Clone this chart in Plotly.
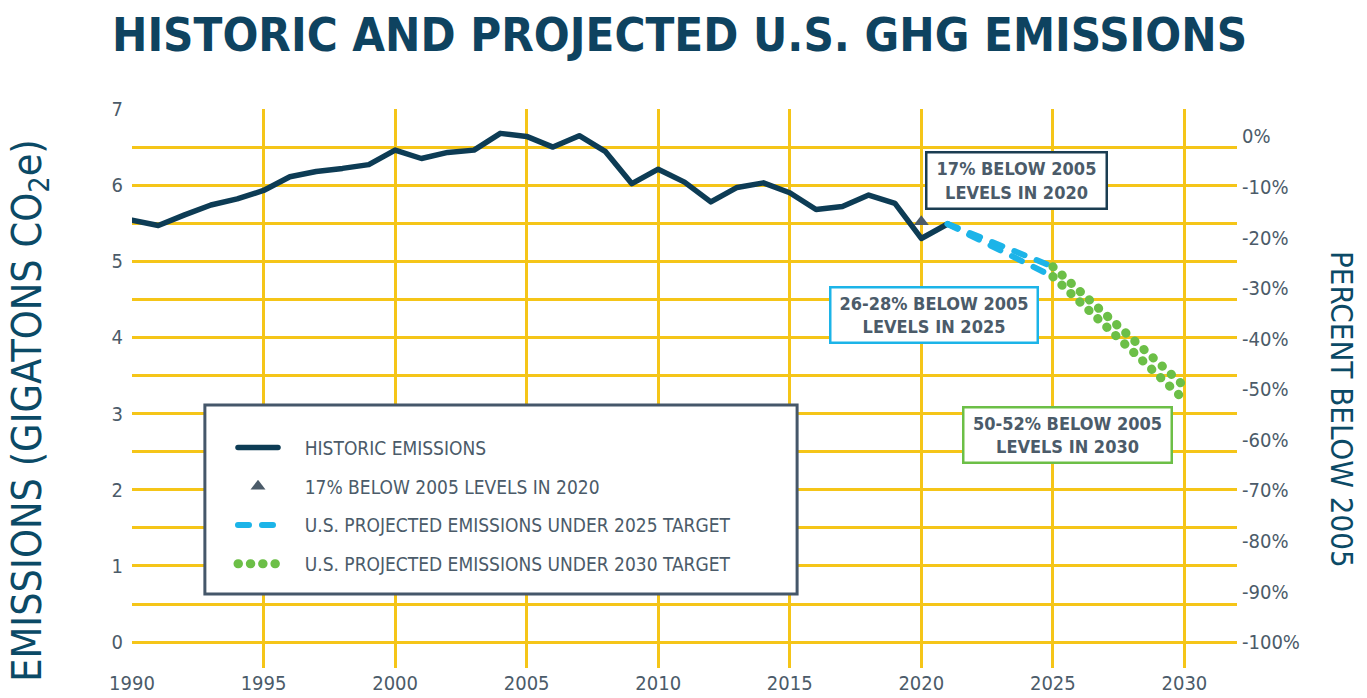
import plotly.graph_objects as go

# ---------------- data ----------------
hist_years = list(range(1990, 2022))
hist_values = [5.54, 5.47, 5.61, 5.74, 5.82, 5.93, 6.11, 6.18, 6.22, 6.27,
               6.46, 6.35, 6.43, 6.46, 6.68, 6.64, 6.50, 6.65, 6.44, 6.02,
               6.21, 6.04, 5.78, 5.97, 6.03, 5.90, 5.68, 5.72, 5.87, 5.76,
               5.30, 5.49]

target2020_year = [2020]
target2020_value = [5.52]

proj2025_years = [2021, 2025]
proj2025_high = [5.49, 4.93]
proj2025_low = [5.49, 4.80]

proj2030_years = [2025, 2030]
proj2030_high = [4.93, 3.36]
proj2030_low = [4.80, 3.18]

base_2005 = hist_values[hist_years.index(2005)]

x_tickvals = [1990, 1995, 2000, 2005, 2010, 2015, 2020, 2025, 2030]
x_ticktext = ["1990", "1995", "2000", "2005", "2010", "2015", "2020", "2025", "2030"]
y_tickvals = [0, 1, 2, 3, 4, 5, 6, 7]
y_ticktext = ["0", "1", "2", "3", "4", "5", "6", "7"]
y_half_grid = [0.5, 1.5, 2.5, 3.5, 4.5, 5.5, 6.5]
pct_tickvals = [0, -10, -20, -30, -40, -50, -60, -70, -80, -90, -100]
pct_ticktext = ["0%", "-10%", "-20%", "-30%", "-40%", "-50%", "-60%", "-70%",
                "-80%", "-90%", "-100%"]

legend_names = ["HISTORIC EMISSIONS", "17% BELOW 2005 LEVELS IN 2020",
                "U.S. PROJECTED EMISSIONS UNDER 2025 TARGET",
                "U.S. PROJECTED EMISSIONS UNDER 2030 TARGET"]

# ---------------- style ----------------
NAVY = "#0d3c55"
SLATE = "#4b5b69"
CYAN = "#1cb4e8"
GREEN = "#6cbf47"
GRID = "#f5c518"
TITLE = "#0e4360"
COND = "DejaVu Sans Condensed"
PAD = "\u00a0\u00a0\u00a0\u00a0"

y_range = [-0.34, 7.0]
x_range = [1990, 2032]
y2_range = [(y_range[0] / base_2005 - 1) * 100, (y_range[1] / base_2005 - 1) * 100]

fig = go.Figure()

fig.add_trace(go.Scatter(
    x=hist_years, y=hist_values, mode="lines", name=PAD + legend_names[0],
    legendgroup="a", line=dict(color=NAVY, width=5.5), hoverinfo="skip"))

fig.add_trace(go.Scatter(
    x=target2020_year, y=target2020_value, mode="markers", name=PAD + legend_names[1],
    legendgroup="b", marker=dict(symbol="triangle-up", size=13, color=SLATE),
    hoverinfo="skip"))

fig.add_trace(go.Scatter(
    x=proj2025_years, y=proj2025_high, mode="lines", name=PAD + legend_names[2],
    legendgroup="c", line=dict(color=CYAN, width=6, dash="11px,13px"),
    hoverinfo="skip"))
fig.add_trace(go.Scatter(
    x=proj2025_years, y=proj2025_low, mode="lines", name=PAD + legend_names[2],
    legendgroup="c", showlegend=False,
    line=dict(color=CYAN, width=6, dash="11px,13px"), hoverinfo="skip"))

fig.add_trace(go.Scatter(
    x=proj2030_years, y=proj2030_high, mode="lines", name=PAD + legend_names[3],
    legendgroup="d", line=dict(color=GREEN, width=9, dash="0.5px,11.8px"),
    hoverinfo="skip"))
fig.add_trace(go.Scatter(
    x=proj2030_years, y=proj2030_low, mode="lines", name=PAD + legend_names[3],
    legendgroup="d", showlegend=False,
    line=dict(color=GREEN, width=9, dash="0.5px,11.8px"), hoverinfo="skip"))

# invisible trace to activate right axis
fig.add_trace(go.Scatter(x=[1990], y=[0], yaxis="y2", mode="markers",
                         marker=dict(opacity=0), showlegend=False, hoverinfo="skip"))

# legend box
fig.add_shape(type="rect", xref="x", yref="y", x0=1992.77, x1=2015.28, y0=0.632, y1=3.113,
              line=dict(color="#45576a", width=3), fillcolor="white", layer="above")

ann_font = dict(family=COND, size=18, color=SLATE)
annotations = [
    dict(x=2023.62, y=6.055, text="<b>17% BELOW 2005<br>LEVELS IN 2020</b>",
         bordercolor="#1b3d52", w=178, h=54),
    dict(x=2020.48, y=4.295, text="<b>26-28% BELOW 2005<br>LEVELS IN 2025</b>",
         bordercolor=CYAN, w=205, h=53),
    dict(x=2025.56, y=2.72, text="<b>50-52% BELOW 2005<br>LEVELS IN 2030</b>",
         bordercolor=GREEN, w=206, h=53),
]
for a in annotations:
    fig.add_annotation(x=a["x"], y=a["y"], xref="x", yref="y", text=a["text"],
                       showarrow=False, font=ann_font, bgcolor="white",
                       bordercolor=a["bordercolor"], borderwidth=2.5, borderpad=0,
                       width=a["w"], height=a["h"], xanchor="center", yanchor="middle")

# axis titles
fig.add_annotation(x=-0.0925, y=0.4615, xref="paper", yref="paper",
                   text="EMISSIONS (GIGATONS CO<sub>2</sub>e)", textangle=-90,
                   showarrow=False, font=dict(family=COND, size=41, color="#0b4a66"),
                   xanchor="center", yanchor="middle")
fig.add_annotation(x=1.095, y=0.4615, xref="paper", yref="paper",
                   text="PERCENT BELOW 2005", textangle=90,
                   showarrow=False, font=dict(family=COND, size=31, color="#0b4a66"),
                   xanchor="center", yanchor="middle")

fig.update_layout(
    width=1367, height=698,
    margin=dict(l=132, r=130, t=109, b=30, autoexpand=False),
    paper_bgcolor="white", plot_bgcolor="white",
    title=dict(text="<b>HISTORIC AND PROJECTED U.S. GHG EMISSIONS</b>",
               x=112 / 1367, xanchor="left", xref="container",
               y=1 - 35 / 698, yanchor="middle", yref="container",
               font=dict(family=COND, size=47, color=TITLE)),
    xaxis=dict(range=x_range, tickvals=x_tickvals, ticktext=x_ticktext,
               showgrid=True, gridcolor=GRID, gridwidth=2.5, zeroline=False,
               showline=False, ticks="", ticklabelstandoff=1, automargin=False,
               tickfont=dict(family=COND, size=20, color=SLATE)),
    yaxis=dict(range=y_range, tickvals=y_tickvals, ticktext=y_ticktext,
               showgrid=True, gridcolor=GRID, gridwidth=2.5, zeroline=False,
               showline=False, ticks="", ticklabelstandoff=8, automargin=False,
               minor=dict(tickvals=y_half_grid, showgrid=True, gridcolor=GRID,
                          gridwidth=2.5, ticks=""),
               tickfont=dict(family=COND, size=20, color=SLATE)),
    yaxis2=dict(range=y2_range, overlaying="y", side="right", tickvals=pct_tickvals,
                ticktext=pct_ticktext, showgrid=False, zeroline=False, showline=False,
                ticks="", ticklabelstandoff=4, automargin=False,
                tickfont=dict(family=COND, size=20, color=SLATE)),
    showlegend=True,
    legend=dict(x=0.0914, y=0.428, xanchor="left", yanchor="top",
                bgcolor="rgba(0,0,0,0)", borderwidth=0, traceorder="grouped",
                tracegroupgap=11, itemwidth=40,
                font=dict(family=COND, size=19, color=SLATE)),
)

post = """
document.body.style.margin = '0';
var gd = document.getElementById('{plot_id}');
gd.querySelectorAll('path.js-line').forEach(function(p){
  p.style.strokeLinecap = 'round';
  p.style.strokeLinejoin = 'round';
});
"""
fig.write_html("out.html", post_script=post, config={"displayModeBar": False})
